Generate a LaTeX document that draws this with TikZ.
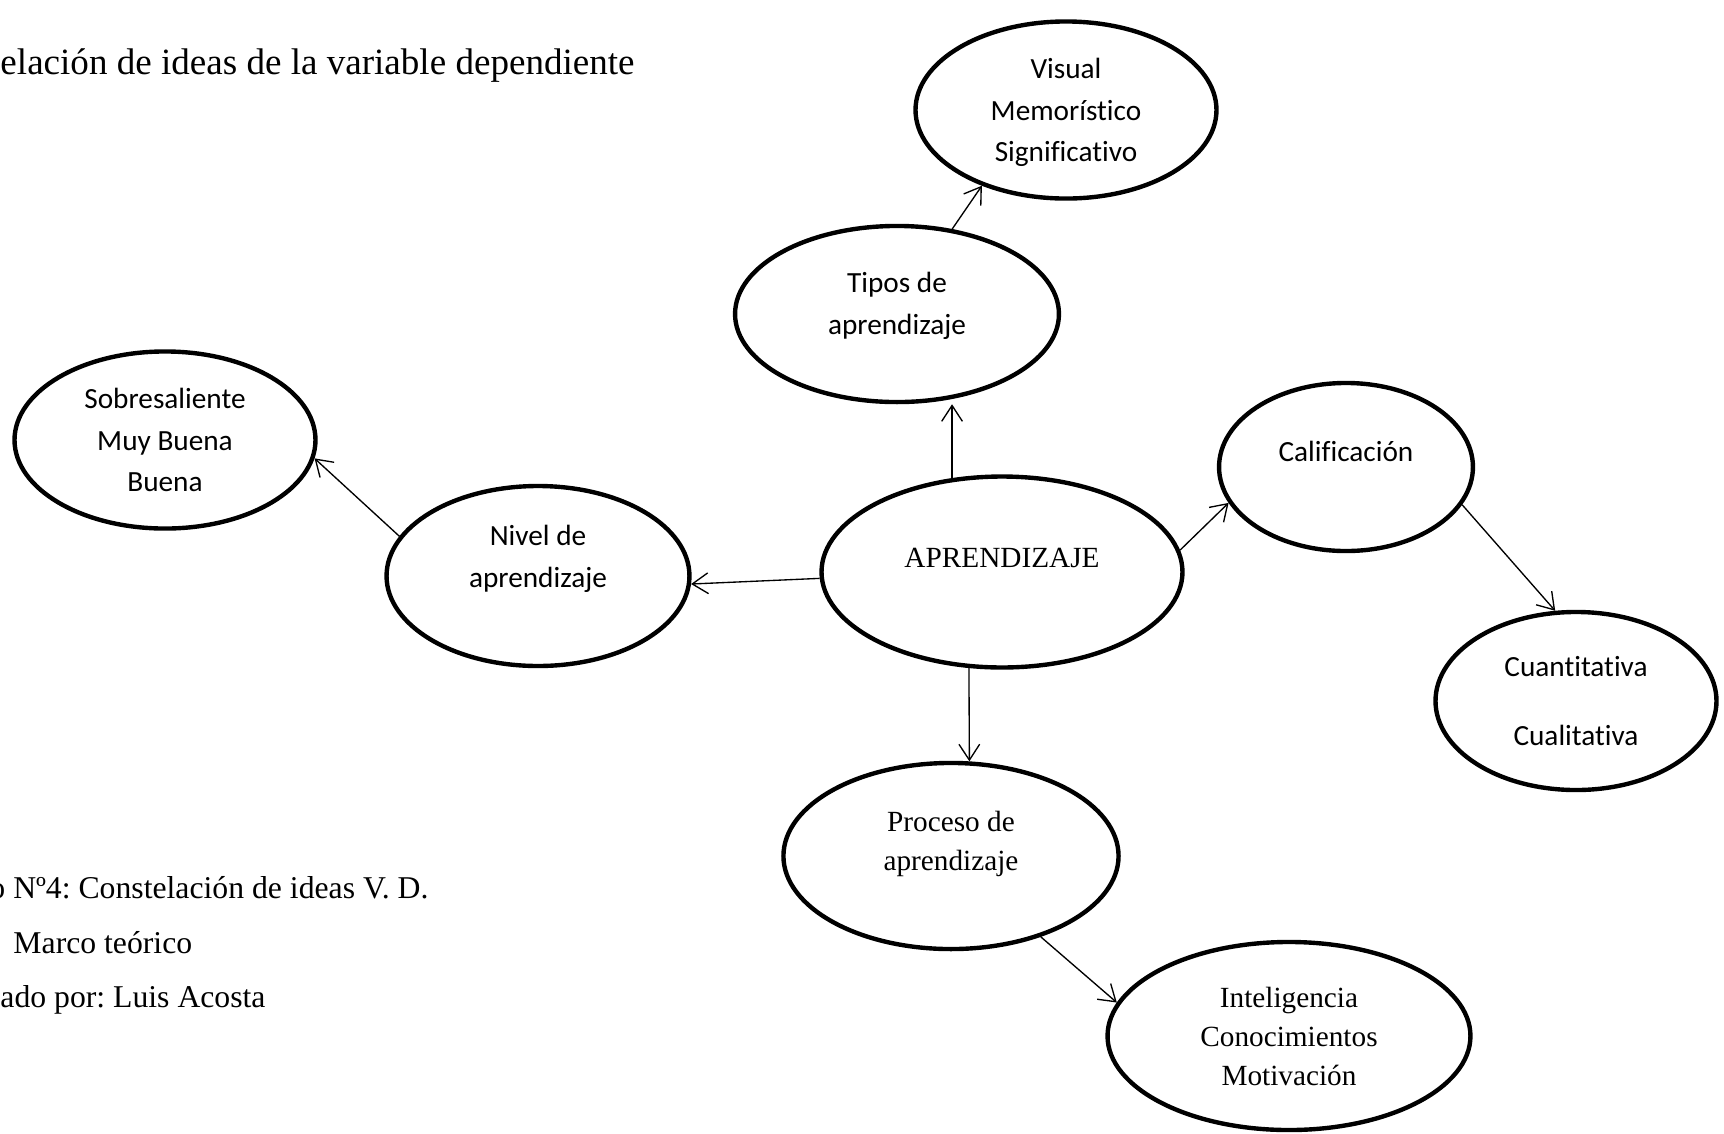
\documentclass[tikz,border=0pt]{standalone}
\usepackage{fontspec}
\setmainfont{Liberation Serif}
\newfontfamily\calibri[Ligatures=NoCommon]{Carlito}
\usetikzlibrary{shapes.geometric,arrows.meta}
\frenchspacing

\begin{document}
\begin{tikzpicture}[x=0.41pt, y=-0.41pt,
        idea/.style={ellipse, draw, line width=1.8pt, inner sep=0pt},
        sanstext/.style={font=\calibri\fontsize{12}{17}\selectfont, align=center},
        seriftext/.style={font=\fontsize{12}{16}\selectfont, align=center},
        arrow/.style={-{Straight Barb[length=6.5pt,width=8.5pt]}, line width=0.55pt},
        caption/.style={anchor=base west, inner sep=0pt, font=\fontsize{13}{15.6}\selectfont}
    ]
        \useasboundingbox (0,0) rectangle (1724,1134);

        % Title
        \node[caption, font=\fontsize{15.2}{18}\selectfont] (title) at (0,74) {elación de ideas de la variable dependiente};

        % Central idea
        \node[idea, minimum width=148pt, minimum height=78.3pt,
              label={[seriftext, yshift=5.7pt]center:APRENDIZAJE}] (apr) at (1002,572) {};

        % Tipos de aprendizaje
        \node[idea, minimum width=132.8pt, minimum height=72.2pt,
              label={[sanstext, yshift=3.3pt]center:{Tipos de\\aprendizaje}}] (tipos) at (897,314) {};
        \node[idea, minimum width=123.4pt, minimum height=72.6pt,
              label={[sanstext, yshift=-1.1pt]center:{Visual\\Memorístico\\Significativo}}] (vis) at (1066,110) {};

        % Nivel de aprendizaje
        \node[idea, minimum width=124.2pt, minimum height=73.8pt,
              label={[sanstext, yshift=7pt]center:{Nivel de\\aprendizaje}}] (nivel) at (538,576) {};
        \node[idea, minimum width=123.4pt, minimum height=72.6pt,
              label={[sanstext]center:{Sobresaliente\\Muy Buena\\Buena}}] (sobre) at (165,440) {};

        % Calificacion
        \node[idea, minimum width=104.1pt, minimum height=68.9pt,
              label={[sanstext, yshift=6.2pt]center:Calificación}] (calif) at (1346,467) {};
        \node[idea, minimum width=115.2pt, minimum height=73pt,
              label={[sanstext]center:{Cuantitativa\\[11.3pt]Cualitativa}}] (cuant) at (1576,701) {};

        % Proceso de aprendizaje
        \node[idea, minimum width=137.4pt, minimum height=76.3pt,
              label={[seriftext, yshift=5pt]center:{Proceso de\\aprendizaje}}] (proc) at (951,856) {};
        \node[idea, minimum width=148.8pt, minimum height=77.1pt,
              label={[seriftext]center:{Inteligencia\\Conocimientos\\Motivación}}] (intel) at (1289,1036) {};

        % Arrows
        \draw[arrow] (apr.118) -- (apr.118 |- tipos.south);
        \draw[arrow] (tipos.57) -- (vis.222);
        \draw[arrow] (apr.182) -- (nivel.357);
        \draw[arrow] (nivel.164) -- (sobre.353);
        \draw[arrow] (apr.7) -- (calif.197);
        \draw[arrow] (calif.342) -- (cuant.103);
        \draw[arrow] (apr.251) -- (proc.79);
        \draw[arrow] (proc.318) -- (intel.169);

        % Caption
        \node[caption] (fig) at (-11,898) {o Nº4: Constelación de ideas V. D.};
        \node[caption] (source) at (13,953) {Marco teórico};
        \node[caption] (author) at (0,1007) {ado por: Luis Acosta};
    \end{tikzpicture}
\end{document}
